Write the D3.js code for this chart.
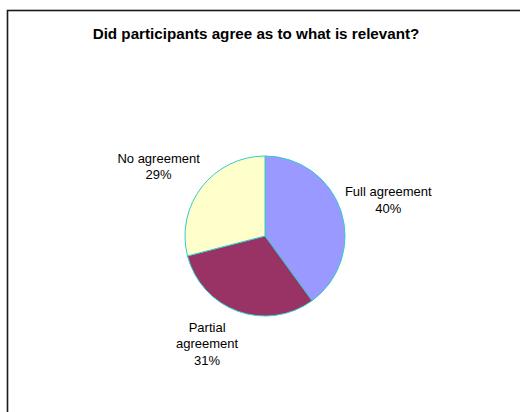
<!DOCTYPE html>
<html>
<head>
<meta charset="utf-8">
<script src="https://cdn.jsdelivr.net/npm/d3@7"></script>
<style>
html,body{margin:0;padding:0;background:#fff;}
svg{display:block;}
text{font-family:Arial,"Liberation Sans",sans-serif;fill:#000;}
</style>
</head>
<body>
<svg id="chart" width="520" height="412"></svg>
<script>
const title = "Did participants agree as to what is relevant?";
const categories = ["Full agreement", "Partial agreement", "No agreement"];
const values = [40, 31, 29];
const labelLines = [["Full agreement", "40%"], ["Partial", "agreement", "31%"], ["No agreement", "29%"]];
const colors = ["#9999FF", "#993366", "#FFFFCC"];

const svg = d3.select("#chart");

// frame (extends beyond the window at right and bottom)
svg.append("rect")
  .attr("x", 7.5).attr("y", 10.5)
  .attr("width", 700).attr("height", 700)
  .attr("fill", "#fff").attr("stroke", "#1a1a1a").attr("stroke-width", 1.6);

svg.append("text")
  .attr("x", 256).attr("y", 39)
  .attr("text-anchor", "middle")
  .attr("font-weight", "bold")
  .attr("font-size", 15.2)
  .text(title);

const cx = 265, cy = 236, r = 80;
const color = d3.scaleOrdinal().domain(categories).range(colors);
const pie = d3.pie().value(d => d.value).sort(null);
const data = categories.map((c, i) => ({ cat: c, value: values[i], lines: labelLines[i] }));
const arcs = pie(data);
const arc = d3.arc().innerRadius(0).outerRadius(r);

const g = svg.append("g").attr("transform", `translate(${cx},${cy})`);
g.selectAll("path").data(arcs).enter().append("path")
  .attr("d", arc)
  .attr("fill", d => color(d.data.cat))
  .attr("stroke", "#33CCCC")
  .attr("stroke-width", 1);

// label positions: placed outside the pie along each slice's mid-angle
const labelArc = d3.arc().innerRadius(r * 1.62).outerRadius(r * 1.62);
const lineH = 16.3;
const offsets = [[0, 4], [-14, -14], [-4, 10]];
arcs.forEach((a, i) => {
  const [lx, ly] = labelArc.centroid(a);
  const n = a.data.lines.length;
  const t = g.append("text")
    .attr("text-anchor", "middle")
    .attr("font-size", 13);
  a.data.lines.forEach((ln, j) => {
    t.append("tspan")
      .attr("x", lx + offsets[i][0])
      .attr("y", ly + offsets[i][1] + (j - (n - 1) / 2) * lineH + 4.5)
      .text(ln);
  });
});
</script>
</body>
</html>
